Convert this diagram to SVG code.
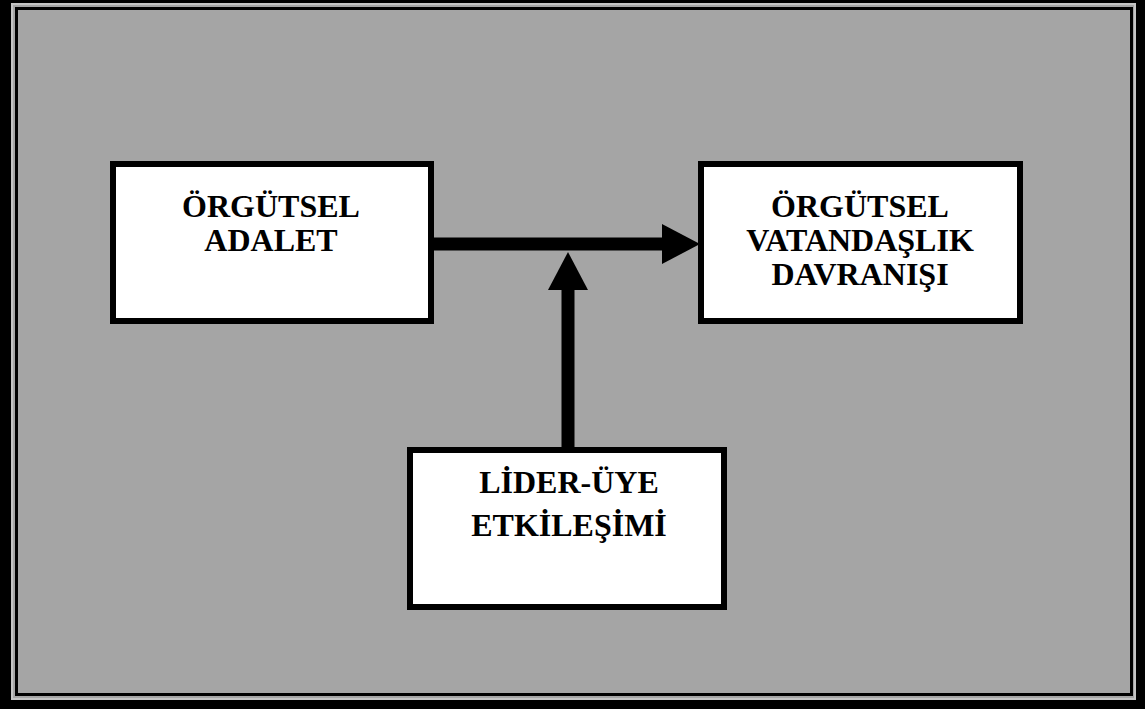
<svg xmlns="http://www.w3.org/2000/svg" width="1145" height="709" viewBox="0 0 1145 709">
  <style>
    .box { fill: #ffffff; stroke: #000000; stroke-width: 6; }
    .lbl { font-family: "Liberation Serif", "Times New Roman", serif; font-weight: bold; font-size: 32px; fill: #000000; text-anchor: middle; }
    .conn { stroke: #000000; stroke-width: 13; fill: none; }
  </style>
  <defs>
    <marker id="head" markerUnits="userSpaceOnUse" markerWidth="38" markerHeight="40" refX="0" refY="20" orient="auto">
      <path d="M0,0 L38,20 L0,40 Z" fill="#000000"/>
    </marker>
  </defs>
  <g id="frame">
    <rect x="0" y="0" width="1145" height="709" fill="#000000"/>
    <rect x="12" y="4" width="1123" height="695" fill="#a5a5a5" stroke="#c4c4c4" stroke-width="2"/>
    <rect x="16.5" y="8.5" width="1115" height="686" fill="#a5a5a5" stroke="#000000" stroke-width="3"/>
  </g>
  <g id="connectors">
    <line class="conn" x1="434" y1="244" x2="662" y2="244" marker-end="url(#head)"/>
    <line class="conn" x1="568" y1="447" x2="568" y2="290" marker-end="url(#head)"/>
  </g>
  <g id="node-adalet">
    <rect class="box" x="113" y="164" width="318" height="157"/>
    <text class="lbl" x="271" y="217">ÖRGÜTSEL</text>
    <text class="lbl" x="271" y="251">ADALET</text>
  </g>
  <g id="node-vatandaslik">
    <rect class="box" x="701" y="164" width="319" height="157"/>
    <text class="lbl" x="860" y="217">ÖRGÜTSEL</text>
    <text class="lbl" x="860" y="251">VATANDAŞLIK</text>
    <text class="lbl" x="860" y="285">DAVRANIŞI</text>
  </g>
  <g id="node-lider">
    <rect class="box" x="410" y="450" width="314" height="157"/>
    <text class="lbl" x="569" y="493">LİDER-ÜYE</text>
    <text class="lbl" x="569" y="536">ETKİLEŞİMİ</text>
  </g>
</svg>
